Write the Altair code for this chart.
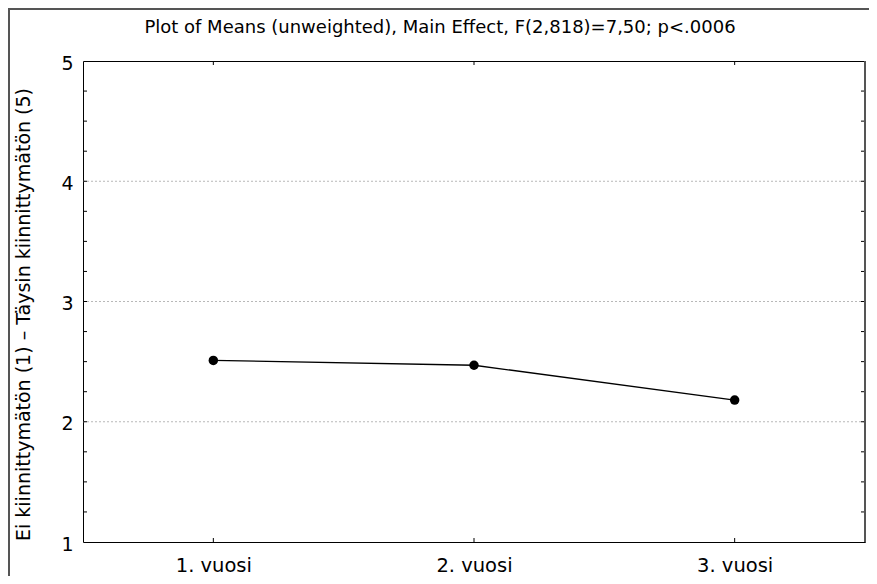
import altair as alt
import pandas as pd

# data
years = ["1. vuosi", "2. vuosi", "3. vuosi"]
means = [2.51, 2.47, 2.18]
grid_values = [2, 3, 4]
minor_ticks = [1.25, 1.5, 1.75, 2, 2.25, 2.5, 2.75, 3, 3.25, 3.5, 3.75, 4, 4.25, 4.5, 4.75]
y_ticks = [1, 2, 3, 4, 5]
title_text = "Plot of Means (unweighted), Main Effect, F(2,818)=7,50; p<.0006"
y_title = "Ei kiinnittymätön (1) – Täysin kiinnittymätön (5)"

FONT = "DejaVu Sans"
W, H = 782, 481

df = pd.DataFrame({"year": years, "mean": means})
grid_df = pd.DataFrame({"mean": grid_values})
minor_df = pd.DataFrame({"mean": minor_ticks})
cat_df = pd.DataFrame({"year": years})

xscale = alt.Scale(type="point", domain=years, padding=0.5)
yscale = alt.Scale(domain=[1, 5], nice=False, zero=False)

xaxis = alt.Axis(title=None, ticks=False, domain=False, grid=False, labelAngle=0,
                 labelFontSize=19.5, labelPadding=14, labelColor="black", labelFont=FONT)
yaxis = alt.Axis(title=y_title, values=y_ticks,
                 ticks=False, domain=False, grid=False, labelFontSize=19, labelPadding=10,
                 labelOffset=2, labelColor="black", labelFont=FONT, titleFont=FONT, titleFontSize=19,
                 titleFontWeight="normal", titleColor="black", titleAngle=270,
                 titleX=-54, titleY=253, titleAlign="center", titleBaseline="alphabetic")

X = alt.X("year:N", scale=xscale, sort=years, axis=xaxis)
Y = alt.Y("mean:Q", scale=yscale, axis=yaxis)

frame = alt.Chart(alt.Data(values=[{}])).mark_rect(
    fill=None, filled=False, stroke="#555555", strokeWidth=2
).encode(x=alt.value(-74), y=alt.value(-52), x2=alt.value(W + 100), y2=alt.value(H + 200))

title = alt.Chart(alt.Data(values=[{"t": title_text}])).mark_text(
    font=FONT, fontSize=18, color="black", align="center", baseline="alphabetic"
).encode(text="t:N", x=alt.value(357), y=alt.value(-28))

grid = alt.Chart(grid_df).mark_rule(color="#b8b8b8", strokeWidth=1, strokeDash=[2, 2]).encode(
    y=Y, x=alt.value(0), x2=alt.value(W)
)
left_ticks = alt.Chart(minor_df).mark_rule(color="black", strokeWidth=1).encode(
    y=Y, x=alt.value(0), x2=alt.value(4)
)
right_ticks = alt.Chart(minor_df).mark_rule(color="black", strokeWidth=1).encode(
    y=Y, x=alt.value(W - 4), x2=alt.value(W)
)
bottom_ticks = alt.Chart(cat_df).mark_rule(color="black", strokeWidth=1).encode(
    x=X, y=alt.value(H - 4), y2=alt.value(H)
)
top_ticks = alt.Chart(cat_df).mark_rule(color="black", strokeWidth=1).encode(
    x=X, y=alt.value(0), y2=alt.value(4)
)
right_edge = alt.Chart(alt.Data(values=[{}])).mark_rule(color="#555555", strokeWidth=2).encode(
    x=alt.value(W), y=alt.value(0), y2=alt.value(H)
)

base = alt.Chart(df).encode(x=X, y=Y)
line = base.mark_line(color="black", strokeWidth=1.3)
points = base.mark_circle(color="black", opacity=1, size=90)

chart = alt.layer(frame, title, grid, left_ticks, right_ticks, bottom_ticks, top_ticks,
                  line, points, right_edge).properties(
    width=W, height=H,
    autosize=alt.AutoSizeParams(type="none"),
    padding={"left": 75, "top": 53, "right": 4, "bottom": 34},
).configure(background="white").configure_view(stroke="black", strokeWidth=1)

chart.save("out.html", embed_options={"renderer": "svg", "actions": False})
